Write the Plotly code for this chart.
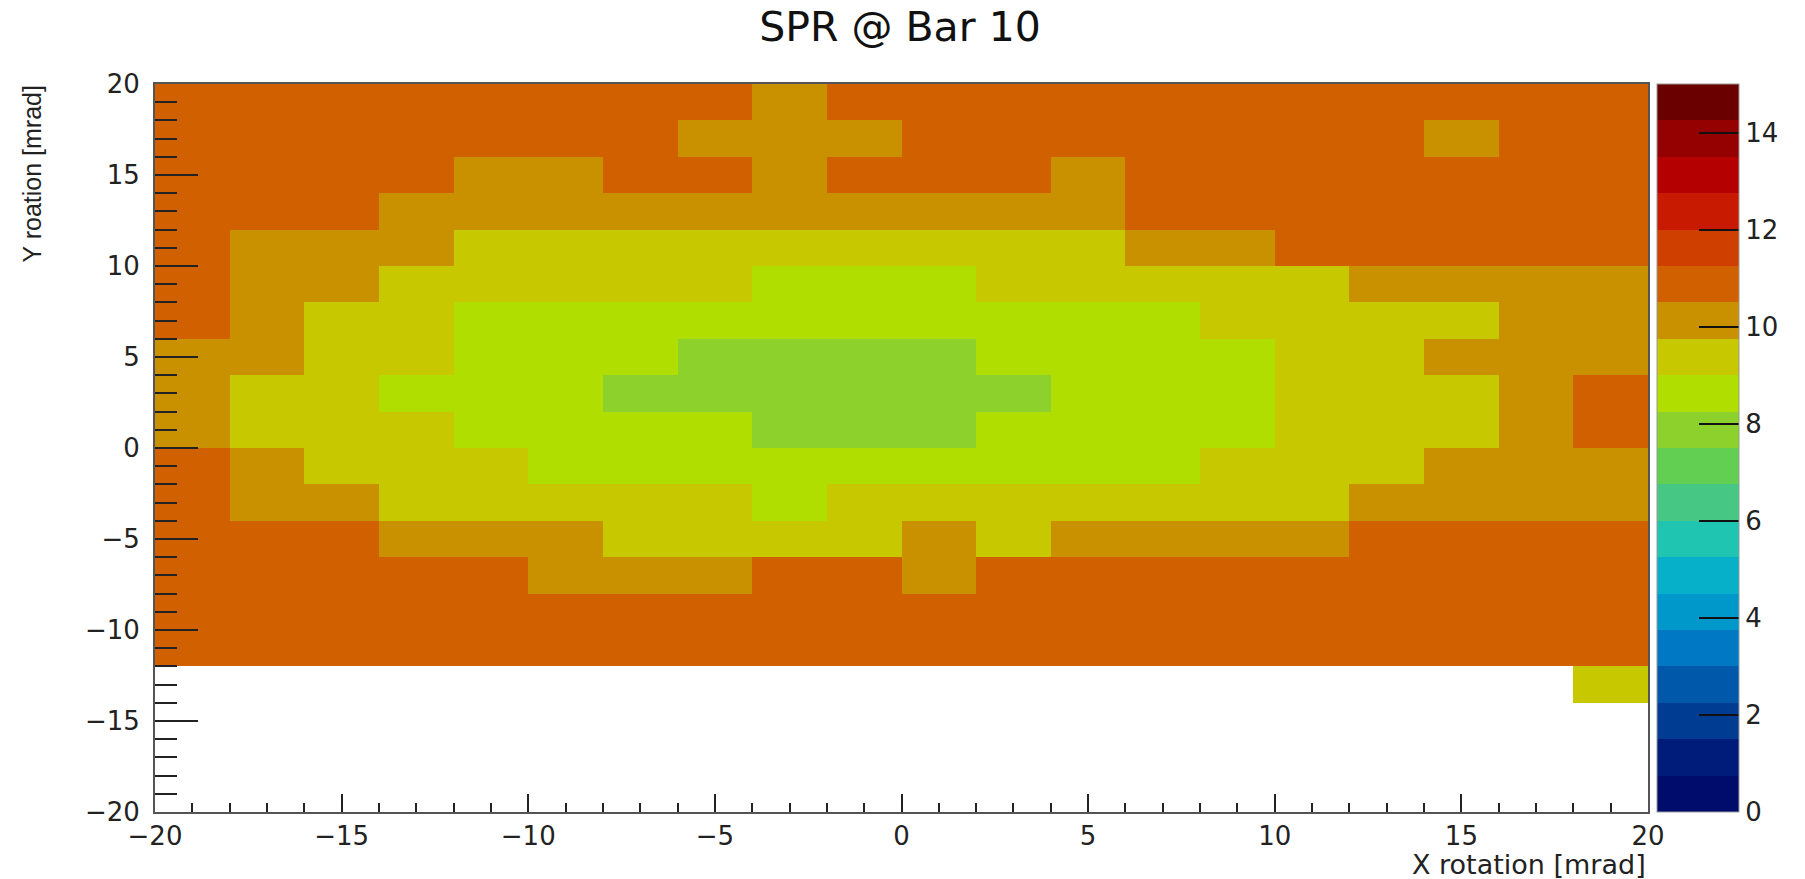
import plotly.graph_objects as go

# Bin centres (2 mrad bins from -20 to 20)
x_centers = [-19, -17, -15, -13, -11, -9, -7, -5, -3, -1, 1, 3, 5, 7, 9, 11, 13, 15, 17, 19]
y_centers = [-19, -17, -15, -13, -11, -9, -7, -5, -3, -1, 1, 3, 5, 7, 9, 11, 13, 15, 17, 19]

# SPR values per row (top row first)
row_18_20 = [10.9, 10.9, 10.9, 10.9, 10.9, 10.9, 10.9, 10.9, 10.1, 10.9, 10.9, 10.9, 10.9, 10.9, 10.9, 10.9, 10.9, 10.9, 10.9, 10.9]
row_16_18 = [10.9, 10.9, 10.9, 10.9, 10.9, 10.9, 10.9, 10.1, 10.1, 10.1, 10.9, 10.9, 10.9, 10.9, 10.9, 10.9, 10.9, 10.1, 10.9, 10.9]
row_14_16 = [10.9, 10.9, 10.9, 10.9, 10.1, 10.1, 10.9, 10.9, 10.1, 10.9, 10.9, 10.9, 10.1, 10.9, 10.9, 10.9, 10.9, 10.9, 10.9, 10.9]
row_12_14 = [10.9, 10.9, 10.9, 10.1, 10.1, 10.1, 10.1, 10.1, 10.1, 10.1, 10.1, 10.1, 10.1, 10.9, 10.9, 10.9, 10.9, 10.9, 10.9, 10.9]
row_10_12 = [10.9, 10.1, 10.1, 10.1, 9.4, 9.4, 9.4, 9.4, 9.4, 9.4, 9.4, 9.4, 9.4, 10.1, 10.1, 10.9, 10.9, 10.9, 10.9, 10.9]
row_8_10 = [10.9, 10.1, 10.1, 9.4, 9.4, 9.4, 9.4, 9.4, 8.6, 8.6, 8.6, 9.4, 9.4, 9.4, 9.4, 9.4, 10.1, 10.1, 10.1, 10.1]
row_6_8 = [10.9, 10.1, 9.4, 9.4, 8.6, 8.6, 8.6, 8.6, 8.6, 8.6, 8.6, 8.6, 8.6, 8.6, 9.4, 9.4, 9.4, 9.4, 10.1, 10.1]
row_4_6 = [10.1, 10.1, 9.4, 9.4, 8.6, 8.6, 8.6, 7.9, 7.9, 7.9, 7.9, 8.6, 8.6, 8.6, 8.6, 9.4, 9.4, 10.1, 10.1, 10.1]
row_2_4 = [10.1, 9.4, 9.4, 8.6, 8.6, 8.6, 7.9, 7.9, 7.9, 7.9, 7.9, 7.9, 8.6, 8.6, 8.6, 9.4, 9.4, 9.4, 10.1, 10.9]
row_0_2 = [10.1, 9.4, 9.4, 9.4, 8.6, 8.6, 8.6, 8.6, 7.9, 7.9, 7.9, 8.6, 8.6, 8.6, 8.6, 9.4, 9.4, 9.4, 10.1, 10.9]
row_m2_0 = [10.9, 10.1, 9.4, 9.4, 9.4, 8.6, 8.6, 8.6, 8.6, 8.6, 8.6, 8.6, 8.6, 8.6, 9.4, 9.4, 9.4, 10.1, 10.1, 10.1]
row_m4_m2 = [10.9, 10.1, 10.1, 9.4, 9.4, 9.4, 9.4, 9.4, 8.6, 9.4, 9.4, 9.4, 9.4, 9.4, 9.4, 9.4, 10.1, 10.1, 10.1, 10.1]
row_m6_m4 = [10.9, 10.9, 10.9, 10.1, 10.1, 10.1, 9.4, 9.4, 9.4, 9.4, 10.1, 9.4, 10.1, 10.1, 10.1, 10.1, 10.9, 10.9, 10.9, 10.9]
row_m8_m6 = [10.9, 10.9, 10.9, 10.9, 10.9, 10.1, 10.1, 10.1, 10.9, 10.9, 10.1, 10.9, 10.9, 10.9, 10.9, 10.9, 10.9, 10.9, 10.9, 10.9]
row_m10_m8 = [10.9, 10.9, 10.9, 10.9, 10.9, 10.9, 10.9, 10.9, 10.9, 10.9, 10.9, 10.9, 10.9, 10.9, 10.9, 10.9, 10.9, 10.9, 10.9, 10.9]
row_m12_m10 = [10.9, 10.9, 10.9, 10.9, 10.9, 10.9, 10.9, 10.9, 10.9, 10.9, 10.9, 10.9, 10.9, 10.9, 10.9, 10.9, 10.9, 10.9, 10.9, 10.9]
row_m14_m12 = [None, None, None, None, None, None, None, None, None, None, None, None, None, None, None, None, None, None, None, 9.4]
row_empty = [None] * 20

rows_top_down = [row_18_20, row_16_18, row_14_16, row_12_14, row_10_12, row_8_10, row_6_8,
                 row_4_6, row_2_4, row_0_2, row_m2_0, row_m4_m2, row_m6_m4, row_m8_m6,
                 row_m10_m8, row_m12_m10, row_m14_m12, row_empty, row_empty, row_empty]
z = list(reversed(rows_top_down))

# 20-level palette (bottom to top) as in the reference colour bar
palette = ["#000C6C", "#001C7A", "#003C92", "#0058AA", "#0078C4", "#0098CA", "#05B0C8",
           "#20C5B2", "#46C884", "#62CE52", "#8CD12C", "#B0DE00", "#C8C800", "#C99000",
           "#D16000", "#CF4000", "#C81A00", "#B40000", "#950000", "#6A0000"]
z_min, z_max = 0, 15
cbar_ticks = [0, 2, 4, 6, 8, 10, 12, 14]

colorscale = []
n = len(palette)
for k, c in enumerate(palette):
    colorscale.append([k / n, c])
    colorscale.append([(k + 1) / n, c])

W, H = 1805, 879
L, T = 155, 84
R = W - 1648
B = H - 812
pw = W - L - R
ph = H - T - B

fig = go.Figure(go.Heatmap(
    x=x_centers, y=y_centers, z=z,
    zmin=z_min, zmax=z_max, colorscale=colorscale,
    xgap=0, ygap=0, hoverongaps=False,
    colorbar=dict(
        x=(1657 - L) / pw, xanchor="left", xpad=0, ypad=0,
        y=0.5, yanchor="middle", len=1, lenmode="fraction",
        thickness=82, thicknessmode="pixels",
        outlinewidth=1, outlinecolor="#999999",
        tickvals=cbar_ticks, ticks="inside", ticklen=40, tickwidth=2, tickcolor="#111111",
        tickfont=dict(family="DejaVu Sans", size=26, color="#222222"),
    ),
))

axis_common = dict(
    showgrid=False, zeroline=False,
    showline=True, mirror=True, linecolor="#555555", linewidth=2,
    tickcolor="#222222", tickwidth=2, ticks="inside",
    tickfont=dict(family="DejaVu Sans", size=26, color="#222222"),
)

fig.update_layout(
    width=W, height=H,
    margin=dict(l=L, r=R, t=T, b=B, autoexpand=False),
    paper_bgcolor="white", plot_bgcolor="white",
    title=dict(text="SPR @ Bar 10", x=900 / W, xref="container", xanchor="center",
               y=1 - 27 / H, yref="container", yanchor="middle",
               font=dict(family="DejaVu Sans", size=41, color="#111111")),
    xaxis=dict(range=[-20, 20], tick0=-20, dtick=5, ticklen=18,
               minor=dict(ticks="inside", dtick=1, ticklen=9, tickwidth=2, tickcolor="#222222"),
               **axis_common),
    yaxis=dict(range=[-20, 20], tick0=-20, dtick=5, ticklen=43, ticklabelstandoff=8,
               minor=dict(ticks="inside", dtick=1, ticklen=22, tickwidth=2, tickcolor="#222222"),
               **axis_common),
    annotations=[
        dict(text="X rotation [mrad]", xref="paper", yref="paper", x=1, y=-(864 - 812) / ph,
             xanchor="right", yanchor="middle", showarrow=False,
             font=dict(family="DejaVu Sans", size=27, color="#222222")),
        dict(text="Y roation [mrad]", xref="paper", yref="paper", x=(31 - L) / pw, y=1.0,
             xanchor="center", yanchor="top", textangle=-90, showarrow=False,
             font=dict(family="Liberation Sans", size=25, color="#222222")),
    ],
)

fig.write_html("out.html", config={"displayModeBar": False},
               post_script="document.body.style.margin='0';document.body.style.overflow='hidden';")
